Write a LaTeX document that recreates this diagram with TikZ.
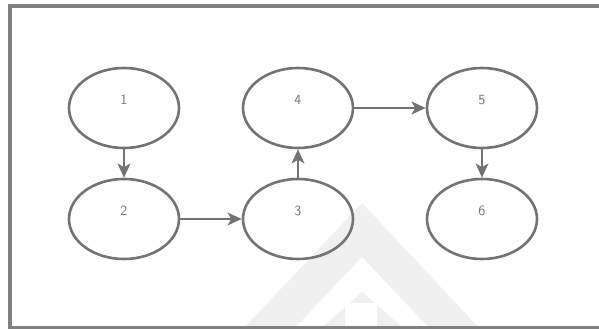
\documentclass[tikz,border=0pt]{standalone}
\usepackage{tikz}
\usetikzlibrary{arrows.meta,shapes.geometric}

\begin{document}
\begin{tikzpicture}[
		state/.style={ellipse, draw=black!55, line width=0.065cm, minimum width=2.75cm, minimum height=2cm, inner sep=0pt, text=black!55, font=\sffamily\normalsize, text depth=0.4cm},
		flow/.style={draw=black!55, line width=0.065cm, -{Stealth[length=10pt, width=9pt, inset=2.5pt]}}
	]
			%%%%% START %%%%%
			
			\useasboundingbox (0, 0) rectangle (14.975, 8.225);
			
			% faint mark in the background
			\fill[black!6] (6.075, 0) -- (9.05, 3.15) -- (12.0, 0) -- cycle;
			\fill[white] (7.35, 0) -- (9.05, 1.8) -- (10.75, 0) -- cycle;
			\fill[black!6] (8.0, 0) -- (9.05, 0.925) -- (10.1, 0) -- cycle;
			\fill[white] (8.625, 0) rectangle (9.425, 0.65);
			
			% frame, open on the right
			\draw[line width=0.1cm, color=black!50] (15.2, 8.075) -- (0.24, 8.075) -- (0.24, 0.03) -- (15.2, 0.03);
			
			\node[state] (s1) at (3.1, 5.525) {1};
			\node[state] (s2) at (3.1, 2.75) {2};
			\node[state] (s3) at (7.45, 2.75) {3};
			\node[state] (s4) at (7.45, 5.525) {4};
			\node[state] (s5) at (12.05, 5.525) {5};
			\node[state] (s6) at (12.05, 2.75) {6};
			
			\draw[flow] (s1) -- (s2);
			\draw[flow] (s2) -- (s3);
			\draw[flow] (s3) -- (s4);
			\draw[flow] (s4) -- (s5);
			\draw[flow] (s5) -- (s6);
			
			%%%%% END %%%%%
		\end{tikzpicture}
\end{document}
